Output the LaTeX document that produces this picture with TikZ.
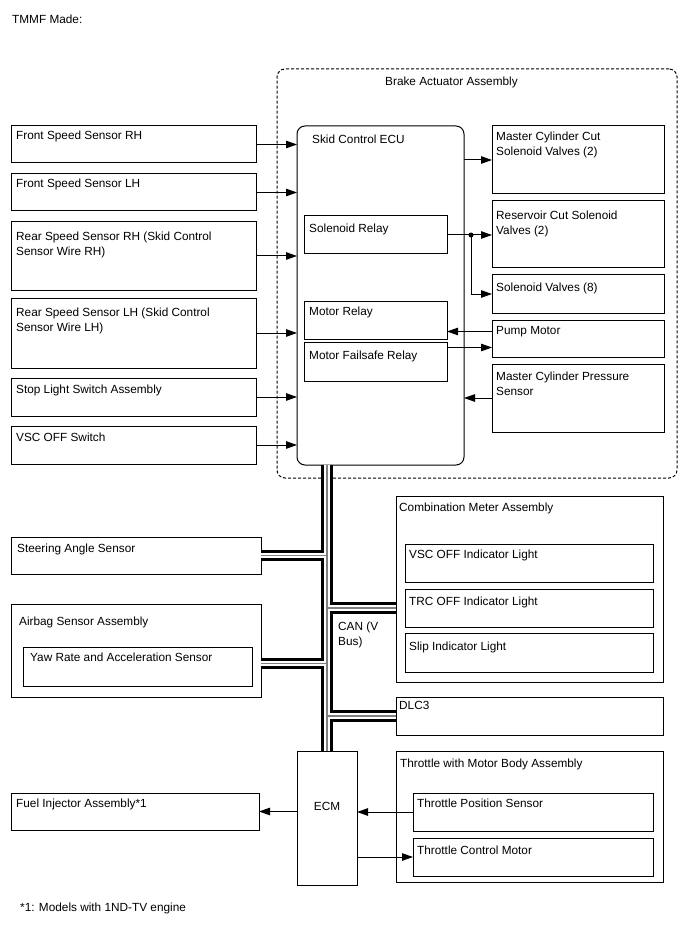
\documentclass[tikz,border=0pt]{standalone}
\usepackage{fontspec}
\setmainfont{Liberation Sans}
\usetikzlibrary{arrows.meta}

\tikzset{
  blk/.style={draw, line width=1pt, anchor=north west, inner sep=0pt, outer sep=0pt},
  lbl/.style={anchor=north west, inner sep=0pt, align=left},
  arr/.style={-{Triangle[length=11pt,width=7.5pt]}, line width=1pt},
}

\begin{document}
\begin{tikzpicture}[x=1pt, y=-1pt, font=\fontsize{11.8}{14.6}\selectfont]
  \useasboundingbox (0,0) rectangle (688,949);
  \node[lbl] (title) at (12,15) {TMMF Made:};
  % Brake actuator
  \node[blk, dashed, dash pattern=on 3pt off 2pt, rounded corners=8pt, minimum width=400pt, minimum height=409pt] (bact) at (277,69) {};
  \node[lbl] (bact-l) at ([shift={(108,8)}]bact.north west) {Brake Actuator Assembly};
  \node[blk, rounded corners=8pt, minimum width=167pt, minimum height=339pt] (ecu) at (297,126) {};
  \node[lbl] (ecu-l) at ([shift={(15,9)}]ecu.north west) {Skid Control ECU};
  \node[blk, minimum width=143pt, minimum height=38pt] (solrel) at (304,216) {};
  \node[lbl] (solrel-l) at ([shift={(5,8)}]solrel.north west) {Solenoid Relay};
  \node[blk, minimum width=143pt, minimum height=38pt] (motrel) at (304,301) {};
  \node[lbl] (motrel-l) at ([shift={(5,6)}]motrel.north west) {Motor Relay};
  \node[blk, minimum width=143pt, minimum height=39pt] (mfs) at (304,342) {};
  \node[lbl] (mfs-l) at ([shift={(5,9)}]mfs.north west) {Motor Failsafe Relay};
  % Right column
  \node[blk, minimum width=172pt, minimum height=68pt] (mcc) at (492,126) {};
  \node[lbl] (mcc-l) at ([shift={(4,6)}]mcc.north west) {Master Cylinder Cut\\Solenoid Valves (2)};
  \node[blk, minimum width=172pt, minimum height=67pt] (rcs) at (492,201) {};
  \node[lbl] (rcs-l) at ([shift={(4,10)}]rcs.north west) {Reservoir Cut Solenoid\\Valves (2)};
  \node[blk, minimum width=172pt, minimum height=38pt] (solv) at (492,275) {};
  \node[lbl] (solv-l) at ([shift={(4,8)}]solv.north west) {Solenoid Valves (8)};
  \node[blk, minimum width=172pt, minimum height=37pt] (pump) at (492,320) {};
  \node[lbl] (pump-l) at ([shift={(4,6)}]pump.north west) {Pump Motor};
  \node[blk, minimum width=172pt, minimum height=68pt] (mcps) at (492,364) {};
  \node[lbl] (mcps-l) at ([shift={(4,8)}]mcps.north west) {Master Cylinder Pressure\\Sensor};
  % Left column
  \node[blk, minimum width=245pt, minimum height=37pt] (frs) at (11,126) {};
  \node[lbl] (frs-l) at ([shift={(5,5)}]frs.north west) {Front Speed Sensor RH};
  \node[blk, minimum width=245pt, minimum height=37pt] (fls) at (11,174) {};
  \node[lbl] (fls-l) at ([shift={(5,5)}]fls.north west) {Front Speed Sensor LH};
  \node[blk, minimum width=245pt, minimum height=68pt] (rrs) at (11,222) {};
  \node[lbl] (rrs-l) at ([shift={(5,10)}]rrs.north west) {Rear Speed Sensor RH (Skid Control\\Sensor Wire RH)};
  \node[blk, minimum width=245pt, minimum height=70pt] (rls) at (11,298) {};
  \node[lbl] (rls-l) at ([shift={(5,10)}]rls.north west) {Rear Speed Sensor LH (Skid Control\\Sensor Wire LH)};
  \node[blk, minimum width=245pt, minimum height=38pt] (stp) at (11,378) {};
  \node[lbl] (stp-l) at ([shift={(5,7)}]stp.north west) {Stop Light Switch Assembly};
  \node[blk, minimum width=245pt, minimum height=38pt] (vsc) at (11,426) {};
  \node[lbl] (vsc-l) at ([shift={(5,7)}]vsc.north west) {VSC OFF Switch};
  % CAN side
  \node[blk, minimum width=250pt, minimum height=37pt] (steer) at (11,537) {};
  \node[lbl] (steer-l) at ([shift={(6,7)}]steer.north west) {Steering Angle Sensor};
  \node[blk, minimum width=250pt, minimum height=93pt] (airbag) at (11,604) {};
  \node[lbl] (airbag-l) at ([shift={(8,13)}]airbag.north west) {Airbag Sensor Assembly};
  \node[blk, minimum width=229pt, minimum height=39pt] (yaw) at (23,647) {};
  \node[lbl] (yaw-l) at ([shift={(7,6)}]yaw.north west) {Yaw Rate and Acceleration Sensor};
  \node[blk, minimum width=267pt, minimum height=186pt] (comb) at (396,496) {};
  \node[lbl] (comb-l) at ([shift={(3,7)}]comb.north west) {Combination Meter Assembly};
  \node[blk, minimum width=248pt, minimum height=38pt] (vscl) at (405,544) {};
  \node[lbl] (vscl-l) at ([shift={(4,6)}]vscl.north west) {VSC OFF Indicator Light};
  \node[blk, minimum width=248pt, minimum height=38pt] (trcl) at (405,589) {};
  \node[lbl] (trcl-l) at ([shift={(4,8)}]trcl.north west) {TRC OFF Indicator Light};
  \node[blk, minimum width=248pt, minimum height=39pt] (slip) at (405,633) {};
  \node[lbl] (slip-l) at ([shift={(4,9)}]slip.north west) {Slip Indicator Light};
  \node[blk, minimum width=267pt, minimum height=38pt] (dlc) at (396,697) {};
  \node[lbl] (dlc-l) at ([shift={(3,4)}]dlc.north west) {DLC3};
  \node[lbl] (can-l) at (338,622) {CAN (V\\Bus)};
  % Engine side
  \node[blk, minimum width=60pt, minimum height=134pt] (ecm) at (297,751) {};
  \node (ecm-l) at ([shift={(0,55)}]ecm.north) {ECM};
  \node[blk, minimum width=248pt, minimum height=37pt] (fuel) at (11,793) {};
  \node[lbl] (fuel-l) at ([shift={(5,6)}]fuel.north west) {Fuel Injector Assembly*1};
  \node[blk, minimum width=267pt, minimum height=131pt] (thr) at (396,751) {};
  \node[lbl] (thr-l) at ([shift={(4,8)}]thr.north west) {Throttle with Motor Body Assembly};
  \node[blk, minimum width=240pt, minimum height=38pt] (tps) at (413,793) {};
  \node[lbl] (tps-l) at ([shift={(4,6)}]tps.north west) {Throttle Position Sensor};
  \node[blk, minimum width=240pt, minimum height=38pt] (tcm) at (413,838) {};
  \node[lbl] (tcm-l) at ([shift={(4,8)}]tcm.north west) {Throttle Control Motor};
  \node[lbl] (note) at (20,903) {*1: Models with 1ND-TV engine};
  % Inputs to ECU
  \foreach \s in {frs,fls,rrs,rls,stp,vsc}
    \draw[arr] (\s.east) -- (\s.east -| ecu.west);
  \draw[arr] (mcc.west -| ecu.east) -- (mcc.west);
  \coordinate (jn) at ([shift={(24,0)}]solrel.east);
  \draw[arr] (solrel.east) -- (rcs.west |- solrel.east);
  \draw[arr] (jn) |- (solv.west);
  \fill (jn) circle (2.5pt);
  \draw[arr] ([shift={(0,-7)}]pump.west) -- ([shift={(0,-7)}]pump.west -| motrel.east);
  \draw[arr] ([shift={(0,9)}]pump.west -| mfs.east) -- ([shift={(0,9)}]pump.west);
  \draw[arr] (mcps.west) -- (mcps.west -| ecu.east);
  \draw[arr] (fuel.east -| ecm.west) -- (fuel.east);
  \draw[arr] (tps.west) -- (tps.west -| ecm.east);
  \draw[arr] (tcm.west -| ecm.east) -- (tcm.west);
  % CAN bus
  \coordinate (abus) at ([shift={(0,13)}]airbag.east);
  \coordinate (cbus) at ([shift={(0,19)}]comb.west);
  \foreach \w/\c in {11.5/black,5.5/white,1.5/gray}
    \draw[line width=\w pt, \c] (ecm.north) -- (ecm.north |- ecu.south)
      (steer.east) -- (steer.east -| ecm.north)
      (abus) -- (abus -| ecm.north)
      (cbus) -- (cbus -| ecm.north)
      (dlc.west) -- (dlc.west -| ecm.north);
\end{tikzpicture}
\end{document}
